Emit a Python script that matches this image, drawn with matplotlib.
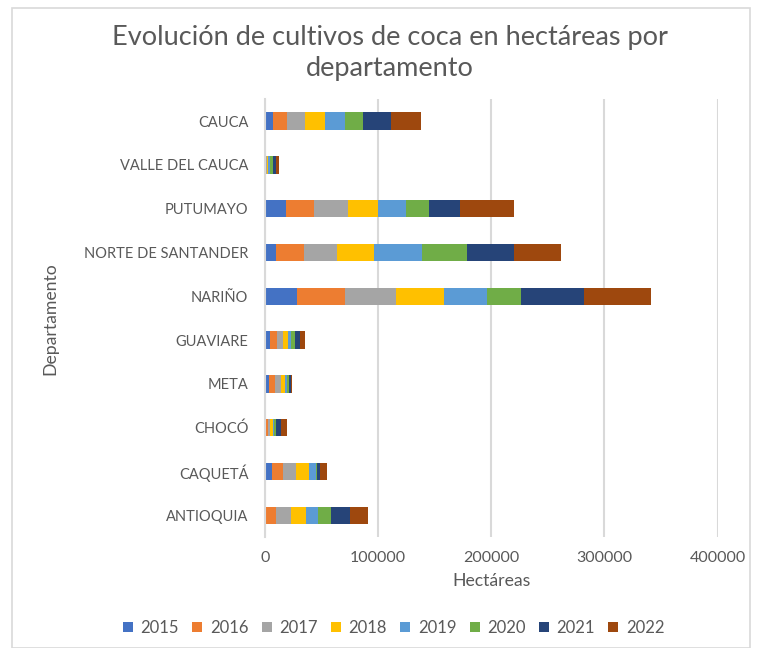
import matplotlib.pyplot as plt
from matplotlib.patches import Rectangle
import numpy as np

plt.rcParams['font.family'] = ['Lato', 'DejaVu Sans']

# Departments (bottom to top) and hectares of coca per year
departamentos = ['ANTIOQUIA', 'CAQUETÁ', 'CHOCÓ', 'META', 'GUAVIARE',
                 'NARIÑO', 'NORTE DE SANTANDER', 'PUTUMAYO', 'VALLE DEL CAUCA', 'CAUCA']
anios = ['2015', '2016', '2017', '2018', '2019', '2020', '2021', '2022']

h2015 = [900, 6500, 300, 3800, 4700, 28500, 9700, 18800, 200, 7400]
h2016 = [8800, 9700, 2100, 5300, 6200, 42100, 25000, 24700, 300, 12300]
h2017 = [13500, 11500, 2100, 5000, 5300, 45100, 28600, 29500, 1200, 15900]
h2018 = [13300, 11400, 2600, 3800, 4100, 42400, 33200, 26800, 600, 17100]
h2019 = [10000, 5700, 1000, 1800, 2900, 37700, 41900, 24400, 2400, 17900]
h2020 = [11500, 800, 1400, 1500, 3600, 30200, 40200, 20400, 2600, 15900]
h2021 = [17100, 3200, 4700, 1500, 4400, 56000, 41500, 27600, 2300, 25000]
h2022 = [15600, 6200, 5300, 1500, 4400, 59400, 41800, 48000, 3000, 26000]

series = [h2015, h2016, h2017, h2018, h2019, h2020, h2021, h2022]
colores = ['#4472C4', '#ED7D31', '#A5A5A5', '#FFC000',
           '#5B9BD5', '#70AD47', '#264478', '#9E480E']

fig = plt.figure(figsize=(7.57, 6.48), dpi=100)
ax = fig.add_axes([0.350, 0.171, 0.598, 0.676])

# outer chart border
fig.patches.append(Rectangle((0.016, 0.0), 0.975, 0.988, transform=fig.transFigure,
                             fill=False, edgecolor='#d9d9d9', linewidth=1.2))

y = np.arange(len(departamentos))
left = np.zeros(len(departamentos))
for anio, valores, color in zip(anios, series, colores):
    ax.barh(y, valores, left=left, height=0.4, color=color, label=anio)
    left += np.array(valores)

ax.set_xlim(0, 400000)
ax.set_ylim(-0.5, len(departamentos) - 0.5)
ax.set_xticks([0, 100000, 200000, 300000, 400000])
ax.set_yticks(y)
ax.set_yticklabels(departamentos)
ax.tick_params(axis='y', length=0, labelsize=10.5, colors='#595959', pad=12)
ax.tick_params(axis='x', length=0, labelsize=11.5, colors='#595959', pad=10)

ax.grid(axis='x', color='#d9d9d9', linewidth=1.5)
ax.set_axisbelow(True)
for s in ['top', 'right', 'bottom']:
    ax.spines[s].set_visible(False)
ax.spines['left'].set_color('#d9d9d9')
ax.spines['left'].set_linewidth(1.5)

ax.set_xlabel('Hectáreas', fontsize=12.7, color='#595959', labelpad=6)
fig.text(0.066, 0.509, 'Departamento', rotation=90, ha='center', va='center',
         fontsize=12.7, color='#595959')

fig.text(0.515, 0.918, 'Evolución de cultivos de coca en hectáreas por\ndepartamento',
         ha='center', va='center', fontsize=19.5, color='#595959', linespacing=1.27)

fig.legend(loc='center', bbox_to_anchor=(0.52, 0.031), ncol=8, frameon=False,
           fontsize=12, handlelength=0.6, handleheight=0.6, handletextpad=0.45,
           columnspacing=0.8, labelcolor='#595959')

fig.savefig('out.png', dpi=100)
